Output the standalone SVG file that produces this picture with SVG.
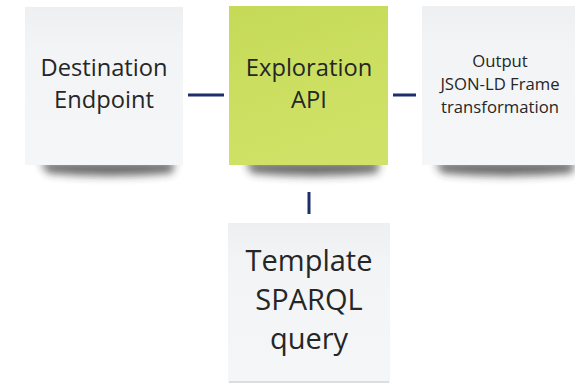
<svg xmlns="http://www.w3.org/2000/svg" width="575" height="383" viewBox="0 0 575 383">
  <defs>
    <filter id="soft" x="-20%" y="-100%" width="140%" height="300%">
      <feGaussianBlur stdDeviation="4"/>
    </filter>
    <linearGradient id="paper" x1="0" y1="0" x2="0" y2="1">
      <stop offset="0" stop-color="#eeeff1"/>
      <stop offset="0.25" stop-color="#f3f4f6"/>
      <stop offset="1" stop-color="#f5f6f8"/>
    </linearGradient>
    <linearGradient id="lime" x1="0" y1="0" x2="0.3" y2="1">
      <stop offset="0" stop-color="#c6da58"/>
      <stop offset="1" stop-color="#cfe267"/>
    </linearGradient>
  </defs>
  <style>
    .card { fill: url(#paper); }
    .green { fill: url(#lime); }
    .shadow { fill: #2b2b2b; opacity: 0.7; filter: url(#soft); }
    .label { font-family: "Open Sans", "Noto Sans", sans-serif; fill: #262626; text-anchor: middle; }
    .link { stroke: #1b2f6b; stroke-width: 3; fill: none; }
  </style>

  <!-- connectors -->
  <g id="connectors">
    <line class="link" x1="188" y1="95" x2="224" y2="95"/>
    <line class="link" x1="393" y1="95" x2="416" y2="95"/>
    <line class="link" x1="309" y1="192" x2="309" y2="214"/>
  </g>

  <g id="destination-endpoint">
    <path class="shadow" d="M40 162 L175 162 L172 173 Q110 179 48 173 Z"/>
    <rect class="card" x="25" y="7" width="158" height="158"/>
    <text class="label" font-size="23.7" x="104" y="76">Destination</text>
    <text class="label" font-size="23.7" x="104" y="108">Endpoint</text>
  </g>

  <g id="exploration-api">
    <path class="shadow" d="M245 162 L380 162 L377 173 Q312 179 252 173 Z"/>
    <rect class="green" x="229" y="6" width="159" height="159"/>
    <text class="label" font-size="23.7" x="309" y="76">Exploration</text>
    <text class="label" font-size="23.7" x="309" y="108">API</text>
  </g>

  <g id="output-jsonld">
    <path class="shadow" d="M435 162 L575 162 L572 173 Q505 179 442 173 Z"/>
    <rect class="card" x="422" y="6" width="153" height="159"/>
    <text class="label" font-size="16.7" x="500" y="67">Output</text>
    <text class="label" font-size="16.7" x="500" y="90">JSON-LD Frame</text>
    <text class="label" font-size="16.7" x="500" y="113">transformation</text>
  </g>

  <g id="template-sparql">
    <rect class="card" x="228" y="223" width="162" height="160"/>
    <line x1="229" y1="382" x2="389" y2="382" stroke="#dcdde0" stroke-width="2"/>
    <text class="label" font-size="29" x="309" y="271">Template</text>
    <text class="label" font-size="29" x="309" y="310">SPARQL</text>
    <text class="label" font-size="29" x="309" y="349">query</text>
  </g>
</svg>
